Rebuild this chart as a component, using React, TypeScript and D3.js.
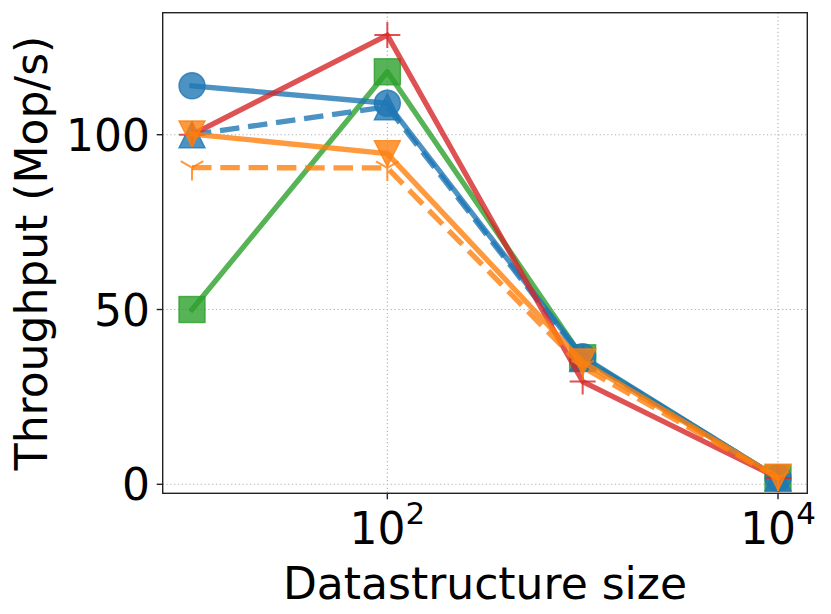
import React from "react";
import * as d3 from "d3";

const sizes = [10, 100, 1000, 10000];
const blueCircle = [114, 109, 36.5, 1.8];
const blueTriUp = [100, 108, 36, 1.8];
const greenSquare = [50, 118, 36.2, 1.8];
const redPlus = [100, 128.5, 29.4, 1.8];
const orangeTriDown = [100.2, 94.6, 35, 2];
const orangeY = [90.6, 90.5, 33.5, 1.8];

const yTicks = [0, 50, 100];
const xTicks = [100, 10000];
const xTickExp = ["2", "4"];

const W = 831;
const H = 614;
const L = 162.7, R = 807.3, T = 12.7, B = 493.3;
const FONT = "DejaVu Sans";
const FS = 44;

type Series = { values: number[]; color: string; dashed: boolean; marker: string };

const series: Series[] = [
  { values: greenSquare, color: "#2ca02c", dashed: false, marker: "s" },
  { values: blueCircle, color: "#1f77b4", dashed: false, marker: "o" },
  { values: blueTriUp, color: "#1f77b4", dashed: true, marker: "^" },
  { values: redPlus, color: "#d62728", dashed: false, marker: "+" },
  { values: orangeTriDown, color: "#ff7f0e", dashed: false, marker: "v" },
  { values: orangeY, color: "#ff7f0e", dashed: true, marker: "1" },
];

const M = 26;
const h = M / 2;

function Marker({ kind, x, y, color }: { kind: string; x: number; y: number; color: string }) {
  const common = { fill: color, fillOpacity: 0.8, stroke: color, strokeOpacity: 0.8, strokeWidth: 1.4 };
  const tr = `translate(${x},${y})`;
  switch (kind) {
    case "o":
      return <circle cx={x} cy={y} r={h} {...common} />;
    case "s":
      return <rect x={x - h} y={y - h} width={M} height={M} {...common} />;
    case "^":
      return <path transform={tr} d={`M0,${-h}L${-h},${h}L${h},${h}Z`} {...common} />;
    case "v":
      return <path transform={tr} d={`M0,${h}L${-h},${-h}L${h},${-h}Z`} {...common} />;
    case "+":
      return (
        <path transform={tr} d={`M${-h},0H${h}M0,${-h}V${h}`} fill="none" stroke={color} strokeOpacity={0.8} strokeWidth={2} />
      );
    case "1": {
      const a = h * 0.866, b = h * 0.5;
      return (
        <path transform={tr} d={`M0,0V${h}M0,0L${-a},${-b}M0,0L${a},${-b}`} fill="none" stroke={color} strokeOpacity={0.8} strokeWidth={2} />
      );
    }
  }
  return null;
}

export default function App() {
  const x = d3.scaleLog().domain([Math.pow(10, 0.85), Math.pow(10, 4.15)]).range([L, R]);
  const y = d3.scaleLinear().domain([-2.57, 134.9]).range([B, T]);
  const line = d3
    .line<number>()
    .x((_, i) => x(sizes[i]))
    .y((d) => y(d));

  return (
    <svg width={W} height={H} style={{ position: "absolute", left: 0, top: 0, background: "#fff" }} fontFamily={FONT}>
      <rect width={W} height={H} fill="#fff" />
      {/* grid */}
      {yTicks.map((t) => (
        <line key={"gy" + t} x1={L} x2={R} y1={y(t)} y2={y(t)} stroke="#b0b0b0" strokeWidth={1.1} strokeDasharray="1.2,2.6" />
      ))}
      {xTicks.map((t) => (
        <line key={"gx" + t} y1={T} y2={B} x1={x(t)} x2={x(t)} stroke="#b0b0b0" strokeWidth={1.1} strokeDasharray="1.2,2.6" />
      ))}
      {/* series */}
      {series.map((s, si) => (
        <g key={si}>
          <path
            d={line(s.values) || ""}
            fill="none"
            stroke={s.color}
            strokeOpacity={0.8}
            strokeWidth={5.3}
            strokeLinejoin="round"
            strokeLinecap={s.dashed ? "butt" : "square"}
            strokeDasharray={s.dashed ? "19.5,8.8" : undefined}
          />
          {s.values.map((v, i) => (
            <Marker key={i} kind={s.marker} x={x(sizes[i])} y={y(v)} color={s.color} />
          ))}
        </g>
      ))}
      {/* frame */}
      <rect x={L} y={T} width={R - L} height={B - T} fill="none" stroke="#222" strokeWidth={1.4} />
      {/* y ticks */}
      {yTicks.map((t) => (
        <g key={"yt" + t}>
          <line x1={L - 6} x2={L} y1={y(t)} y2={y(t)} stroke="#222" strokeWidth={1.4} />
          <text x={150} y={y(t) + 16} textAnchor="end" fontSize={FS} fill="#000">
            {t}
          </text>
        </g>
      ))}
      {/* x ticks */}
      {xTicks.map((t, i) => (
        <g key={"xt" + t}>
          <line x1={x(t)} x2={x(t)} y1={B} y2={B + 6} stroke="#222" strokeWidth={1.4} />
          <text x={x(t)} y={543.5} textAnchor="middle" fontSize={FS} fill="#000">
            <tspan>10</tspan>
            <tspan dy={-20} fontSize={31}>
              {xTickExp[i]}
            </tspan>
          </text>
        </g>
      ))}
      {/* axis labels */}
      <text x={485} y={599} textAnchor="middle" fontSize={FS} fill="#000">
        Datastructure size
      </text>
      <text transform={`translate(47,253) rotate(-90)`} textAnchor="middle" fontSize={FS} fill="#000">
        Throughput (Mop/s)
      </text>
    </svg>
  );
}
